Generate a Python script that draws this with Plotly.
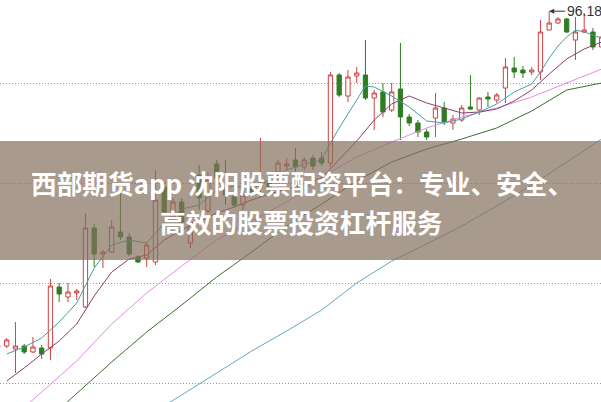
import plotly.graph_objects as go

# ---- data ----
idx = list(range(-1, 69))
opens = [62.65, 62.7, 62.4, 62.7, 62.1, 62.5, 62.5, 68.6, 67.6, 68.0, 66.6, 74.5, 71.9, 72.1, 74.1, 73.6,
         71.6, 71.5, 71.1, 78.6, 75.6, 77.1, 73.0, 79.8, 76.2, 80.9, 78.3, 77.7, 76.8, 78.5, 78.6, 79.0,
         80.1, 80.7, 81.3, 80.6, 81.5, 81.5, 81.0, 89.8, 87.7, 89.7, 89.8, 87.5, 88.1, 86.3, 88.4, 85.6,
         85.0, 84.1, 85.5, 86.5, 85.0, 85.3, 86.6, 86.3, 87.6, 87.3, 88.5, 90.5, 90.3, 90.1, 90.1, 94.3,
         95.0, 95.4, 93.3, 94.1, 94.1, 92.6]
closes = [62.7, 63.3, 62.7, 62.1, 62.6, 61.9, 68.7, 67.9, 68.1, 68.2, 74.5, 71.9, 72.1, 74.6, 73.6, 71.9,
          71.1, 72.8, 77.3, 76.1, 77.1, 75.1, 75.1, 77.5, 79.3, 79.5, 77.8, 76.8, 77.8, 78.0, 79.0, 78.5,
          81.0, 80.9, 80.6, 81.3, 80.7, 81.0, 89.8, 87.8, 89.6, 90.0, 87.5, 88.0, 86.1, 88.1, 85.6, 85.0,
          84.1, 83.6, 86.5, 85.1, 85.4, 86.5, 86.4, 87.5, 87.4, 87.8, 90.6, 90.1, 90.0, 90.3, 94.1, 95.0,
          95.4, 94.1, 94.1, 94.3, 92.6, 93.6]
highs = [63.0, 63.5, 65.1, 62.9, 63.6, 62.8, 69.4, 69.0, 69.0, 68.4, 76.0, 74.9, 72.3, 75.3, 78.0, 74.0,
         71.8, 73.1, 80.3, 79.1, 77.5, 77.5, 75.5, 80.8, 80.1, 81.3, 81.3, 78.0, 78.3, 78.8, 83.5, 79.3,
         81.3, 81.5, 82.5, 81.6, 81.8, 82.1, 90.1, 90.0, 90.3, 90.6, 93.3, 88.3, 89.0, 89.0, 93.0, 85.9,
         85.3, 84.4, 88.0, 87.1, 85.8, 86.8, 89.8, 87.6, 88.1, 88.0, 91.5, 91.6, 90.7, 90.6, 95.3, 96.18,
         95.6, 95.5, 95.6, 96.0, 94.5, 94.3]
lows = [62.4, 62.5, 60.0, 61.9, 62.0, 61.4, 61.3, 67.1, 67.1, 67.3, 66.5, 70.6, 70.5, 72.0, 73.3, 71.7,
        71.0, 70.6, 70.8, 75.8, 75.3, 74.8, 72.5, 76.3, 76.0, 79.2, 76.8, 76.5, 76.3, 77.7, 78.0, 78.0,
        79.1, 80.3, 80.0, 80.3, 80.3, 80.7, 80.6, 87.6, 87.1, 89.0, 87.3, 84.3, 85.6, 86.1, 83.3, 84.7,
        83.6, 83.3, 83.6, 84.8, 84.3, 85.1, 86.3, 85.8, 86.6, 87.0, 87.0, 89.5, 89.5, 89.8, 89.3, 94.3,
        94.9, 94.0, 91.3, 94.0, 92.3, 92.3]

ma5_idx = [0, 2, 4, 6, 8, 10, 12, 14, 16, 18, 20, 22, 24, 26, 28, 30, 32, 34, 36, 37, 38, 40, 41, 42, 44,
           46, 48, 50, 52, 54, 56, 58, 60, 61, 62, 63, 64, 65, 66, 68]
ma5_val = [61.9, 62.6, 63.5, 65.1, 67.0, 70.5, 72.8, 73.3, 73.0, 75.0, 76.4, 76.8, 78.3, 78.7, 78.4, 79.3,
           80.3, 80.9, 81.3, 83.0, 84.5, 87.3, 88.7, 88.6, 87.7, 86.6, 85.2, 85.0, 85.4, 86.1, 86.9, 88.1,
           88.9, 90.1, 91.5, 92.7, 93.6, 94.3, 94.1, 93.5]
ma10_idx = list(range(0, 69, 2))
ma10_val = [59.2, 60.5, 61.9, 63.2, 64.9, 67.7, 70.1, 71.4, 71.8, 73.3, 74.3, 75.1, 76.0, 76.6, 77.3, 77.9,
            78.4, 78.9, 79.5, 81.3, 83.2, 85.3, 86.9, 87.7, 87.0, 86.5, 86.0, 86.1, 86.4, 87.2, 88.3, 89.9,
            91.4, 92.4, 93.1]
ma20_idx = list(range(0, 69, 4))
ma20_val = [55.0, 58.1, 61.2, 64.9, 68.0, 70.7, 73.3, 75.2, 77.1, 79.6, 81.6, 83.1, 84.5, 85.6, 86.5, 87.6,
            89.0, 90.4]
ma30_idx = list(range(4, 69, 4))
ma30_val = [54.8, 58.0, 61.1, 64.1, 66.8, 69.6, 72.1, 74.7, 76.9, 79.2, 81.1, 82.4, 83.4, 84.5, 86.2, 88.3,
            89.0]
ma60_idx = list(range(16, 69, 4))
ma60_val = [55.7, 57.8, 60.0, 62.2, 64.2, 66.3, 69.0, 71.2, 72.9, 74.7, 76.7, 78.8, 81.1, 83.4]

grid_vals = [59, 69, 79, 89]
peak_label = "96.18"
title_line1 = "西部期货app 沈阳股票配资平台：专业、安全、"
title_line2 = "高效的股票投资杠杆服务"

# ---- figure ----
fig = go.Figure()

for xs, ys, col in [(ma60_idx, ma60_val, "#62a7c4"),
                    (ma30_idx, ma30_val, "#3d6e2c"),
                    (ma20_idx, ma20_val, "#e48ae4"),
                    (ma10_idx, ma10_val, "#8a3f72"),
                    (ma5_idx, ma5_val, "#45a0a0")]:
    fig.add_trace(go.Scatter(x=xs, y=ys, mode="lines", line=dict(color=col, width=1),
                             hoverinfo="skip", showlegend=False))

fig.add_trace(go.Candlestick(
    x=idx, open=opens, high=highs, low=lows, close=closes,
    increasing=dict(line=dict(color="#d04040", width=1), fillcolor="#ffffff"),
    decreasing=dict(line=dict(color="#2f7d22", width=1), fillcolor="#2f7d22"),
    whiskerwidth=0, showlegend=False))

fig.add_annotation(x=62, y=96.18, xref="x", yref="y", text=peak_label, showarrow=True,
                   ax=16, ay=0, xanchor="left", arrowhead=2, arrowsize=1, arrowwidth=1,
                   arrowcolor="#333333", font=dict(size=14, color="#333333", family="Arial"))

fig.add_shape(type="rect", xref="paper", yref="paper", x0=0, x1=1, y0=1 - 260 / 402, y1=1 - 141 / 402,
              fillcolor="rgba(132,111,94,0.7)", line=dict(width=0), layer="above")

for txt, yc in [(title_line1, 1 - 182 / 402), (title_line2, 1 - 221 / 402)]:
    fig.add_annotation(x=0.502, y=yc, xref="paper", yref="paper", text=txt, showarrow=False,
                       xanchor="center", yanchor="middle",
                       font=dict(size=25.7, color="#ffffff", family="Noto Sans CJK SC", weight="bold"))

fig.update_layout(
    width=601, height=402, margin=dict(l=0, r=0, t=0, b=0),
    paper_bgcolor="#ffffff", plot_bgcolor="#ffffff",
    xaxis=dict(range=[-0.766, 67.92], visible=False, rangeslider=dict(visible=False)),
    yaxis=dict(range=[57.1, 97.3], tickvals=grid_vals, showticklabels=False, showgrid=True,
               gridcolor="#9a9a9a", griddash="1px,2px", gridwidth=1, zeroline=False, showline=False),
)

fig.write_html("out.html", config={"displayModeBar": False},
               post_script="document.body.style.margin='0';document.body.style.overflow='hidden';")
